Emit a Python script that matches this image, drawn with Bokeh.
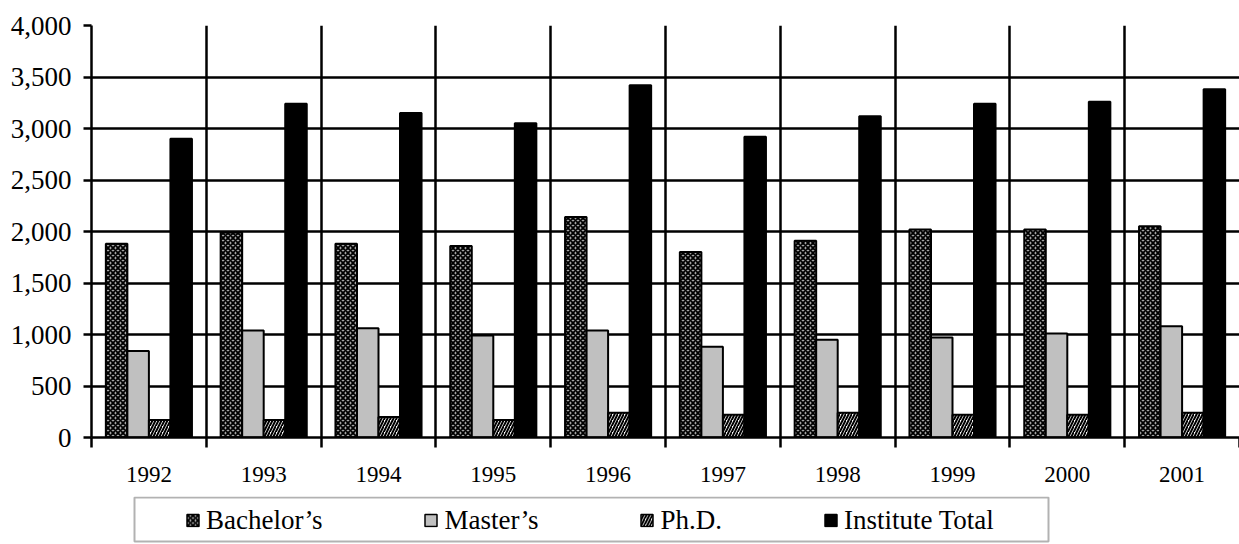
import numpy as np
from bokeh.plotting import figure
from bokeh.models import (Range1d, FixedTicker, NumeralTickFormatter, ColumnDataSource,
                          Legend, LegendItem, BoxAnnotation)
from bokeh.layouts import column
from bokeh.transform import dodge
from bokeh.embed import file_html
from bokeh.resources import INLINE

# ---- data ----
years = ["1992", "1993", "1994", "1995", "1996", "1997", "1998", "1999", "2000", "2001"]
bachelors = [1880, 1990, 1880, 1860, 2140, 1800, 1910, 2020, 2020, 2050]
masters = [840, 1040, 1060, 990, 1040, 880, 950, 970, 1010, 1080]
phd = [170, 170, 200, 170, 240, 220, 240, 220, 220, 240]
total = [2900, 3240, 3150, 3050, 3420, 2920, 3120, 3240, 3260, 3380]
series_labels = ["Bachelor\u2019s", "Master\u2019s", "Ph.D.", "Institute Total"]
y_ticks = [0, 500, 1000, 1500, 2000, 2500, 3000, 3500, 4000]

FONT = "'Liberation Serif', 'Times New Roman', serif"
n = len(years)
centers = [i + 0.5 for i in range(n)]
src = ColumnDataSource(dict(x=centers, bachelors=bachelors, masters=masters, phd=phd, total=total))

styles = [
    dict(fill_color="#a8a8a8", hatch_pattern="diagonal_cross", hatch_color="black",
         hatch_scale=5, hatch_weight=1.8),
    dict(fill_color="#c0c0c0"),
    dict(fill_color="white", hatch_pattern="right_diagonal_line", hatch_color="black",
         hatch_scale=6, hatch_weight=2),
    dict(fill_color="black"),
]
fields = ["bachelors", "masters", "phd", "total"]
bw = 0.1875
offsets = [-1.5 * bw, -0.5 * bw, 0.5 * bw, 1.5 * bw]

W = 1239
LEFT = 91
p = figure(width=W, height=496, x_range=Range1d(0, n), y_range=Range1d(0, 4000),
           output_backend="svg", toolbar_location=None,
           min_border_left=LEFT, min_border_right=0, min_border_top=25, min_border_bottom=59)
p.outline_line_color = None

for f, off, st in zip(fields, offsets, styles):
    p.vbar(x=dodge("x", off), top=f, width=bw, source=src, bottom=0,
           line_color="black", line_width=2, **st)

# y axis
yax = p.yaxis[0]
yax.ticker = FixedTicker(ticks=y_ticks, minor_ticks=[])
yax.formatter = NumeralTickFormatter(format="0,0")
yax.axis_line_width = 2.5
yax.axis_line_color = "black"
yax.major_tick_out = 8
yax.major_tick_in = 0
yax.major_tick_line_width = 2.5
yax.major_tick_line_color = "black"
yax.minor_tick_line_color = None
yax.major_label_text_font = FONT
yax.major_label_text_font_size = "27px"
yax.major_label_text_color = "black"
yax.major_label_standoff = 12

# x axis: labels at centres, ticks at category boundaries
xax = p.xaxis[0]
xax.ticker = FixedTicker(ticks=centers, minor_ticks=list(range(n + 1)))
xax.major_label_overrides = {c: y for c, y in zip(centers, years)}
xax.axis_line_width = 2.5
xax.axis_line_color = "black"
xax.major_tick_out = 0
xax.major_tick_in = 0
xax.major_tick_line_color = None
xax.minor_tick_out = 10
xax.minor_tick_in = 0
xax.minor_tick_line_width = 2.5
xax.minor_tick_line_color = "black"
xax.major_label_text_font = FONT
xax.major_label_text_font_size = "23px"
xax.major_label_text_color = "black"
xax.major_label_standoff = 19

p.xgrid.ticker = FixedTicker(ticks=list(range(1, n)))
p.xgrid.grid_line_color = "black"
p.xgrid.grid_line_width = 2.5
p.ygrid.ticker = FixedTicker(ticks=y_ticks)
p.ygrid.grid_line_color = "black"
p.ygrid.grid_line_width = 2.5

# ---- legend panel (frame aligned with the chart frame, pixel ranges) ----
LH = 48
lf = figure(width=W, height=LH, x_range=Range1d(0, W - LEFT), y_range=Range1d(0, LH),
            output_backend="svg", toolbar_location=None,
            x_axis_location=None, y_axis_location=None,
            min_border_left=LEFT, min_border_right=0, min_border_top=0, min_border_bottom=0)
lf.grid.visible = False
lf.outline_line_color = None
lf.add_layout(BoxAnnotation(left=43, right=957, bottom=3, top=47, fill_color=None,
                            line_color="black", line_width=2))

items = []
for f, lab, st in zip(fields, series_labels, styles):
    r = lf.vbar(x="x", top=f, width=bw, source=src, line_color="black", line_width=1.5,
                visible=False, **st)
    items.append(LegendItem(label=lab, renderers=[r]))

legend = Legend(items=items, orientation="horizontal", location="left", margin=94,
                padding=0, spacing=101, glyph_width=15, glyph_height=15, label_standoff=6,
                label_text_font=FONT, label_text_font_size="27px", label_text_color="black",
                border_line_alpha=0, background_fill_alpha=0, inactive_fill_alpha=0,
                click_policy="none")
lf.add_layout(legend)

layout = column(p, lf, spacing=0)
open("out.html", "w").write(file_html(layout, INLINE))
